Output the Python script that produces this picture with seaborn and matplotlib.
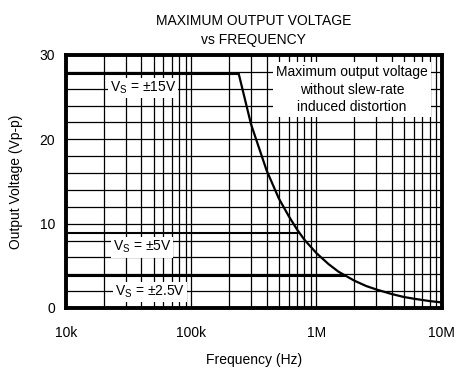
import numpy as np
import pandas as pd
import matplotlib
matplotlib.use("Agg")
import matplotlib.pyplot as plt
from matplotlib.ticker import FixedLocator, MultipleLocator, LogLocator, NullFormatter
import seaborn as sns

# curve values (Hz, Vp-p)
freq_limit = [240e3, 300e3, 400e3, 500e3, 600e3, 700e3, 800e3, 1e6, 1.25e6,
              1.5e6, 2e6, 2.5e6, 3e6, 4e6, 5e6, 6e6, 8e6, 10e6]
vout_limit = [27.7, 21.8, 16.3, 13.0, 10.9, 9.3, 8.1, 6.5, 5.2,
              4.3, 3.25, 2.6, 2.2, 1.65, 1.3, 1.1, 0.82, 0.66]

# flat supply-limited levels
supply_labels = ["V$_{\\rm S}$ = \u00b115V", "V$_{\\rm S}$ = \u00b15V", "V$_{\\rm S}$ = \u00b12.5V"]
supply_level = [27.75, 8.9, 3.8]
supply_end = [240e3, 715e3, 1.68e6]

xticks = [1e4, 1e5, 1e6, 1e7]
xtick_labels = ["10k", "100k", "1M", "10M"]
yticks = [0, 10, 20, 30]

sns.set_style("white")
plt.rcParams["font.family"] = ["Liberation Sans", "DejaVu Sans"]
plt.rcParams["mathtext.fontset"] = "custom"
plt.rcParams["mathtext.rm"] = "Liberation Sans"
plt.rcParams["text.color"] = "black"
plt.rcParams["axes.labelcolor"] = "black"
plt.rcParams["xtick.color"] = "black"
plt.rcParams["ytick.color"] = "black"

fig = plt.figure(figsize=(4.62, 3.78), dpi=100)
ax = fig.add_axes([0.1429, 0.1852, 0.8132, 0.6693])

df_curve = pd.DataFrame({"f": freq_limit, "v": vout_limit})
sns.lineplot(data=df_curve, x="f", y="v", ax=ax, color="black", lw=1.6)

for lvl, fend in zip(supply_level, supply_end):
    d = pd.DataFrame({"f": [1e4, fend], "v": [lvl, lvl]})
    sns.lineplot(data=d, x="f", y="v", ax=ax, color="black", lw=1.5)

ax.set_xscale("log")
ax.set_xlim(1e4, 1e7)
ax.set_ylim(0, 30)
ax.xaxis.set_major_locator(FixedLocator(xticks))
ax.set_xticklabels(xtick_labels)
ax.xaxis.set_minor_locator(LogLocator(base=10, subs=np.arange(2, 10)))
ax.xaxis.set_minor_formatter(NullFormatter())
ax.yaxis.set_major_locator(FixedLocator(yticks))
ax.yaxis.set_minor_locator(MultipleLocator(2))

ax.set_axisbelow(True)
ax.grid(which="both", color="black", lw=0.9)
ax.tick_params(which="both", length=0, labelsize=10)
ax.tick_params(axis="x", pad=13)
ax.tick_params(axis="y", pad=8)

for s in ax.spines.values():
    s.set_linewidth(2.8)
    s.set_color("black")

ax.set_xlabel("Frequency (Hz)", fontsize=10, labelpad=9)
ax.set_ylabel("Output Voltage (Vp-p)", fontsize=10, labelpad=12)
ax.set_title("MAXIMUM OUTPUT VOLTAGE\nvs FREQUENCY", fontsize=10, pad=8, linespacing=1.4)

box = dict(facecolor="white", edgecolor="none", pad=1.5)
ax.text(41e3, 26.1, supply_labels[0], ha="center", va="center", fontsize=10, bbox=box)
ax.text(40.5e3, 7.2, supply_labels[1], ha="center", va="center", fontsize=10, bbox=box)
ax.text(47e3, 1.9, supply_labels[2], ha="center", va="center", fontsize=10, bbox=box)
ax.text(1.92e6, 25.9, "Maximum output voltage\nwithout slew-rate\ninduced distortion",
        ha="center", va="center", fontsize=10, linespacing=1.35,
        bbox=dict(facecolor="white", edgecolor="none", pad=2))

fig.savefig("out.png", dpi=100)
